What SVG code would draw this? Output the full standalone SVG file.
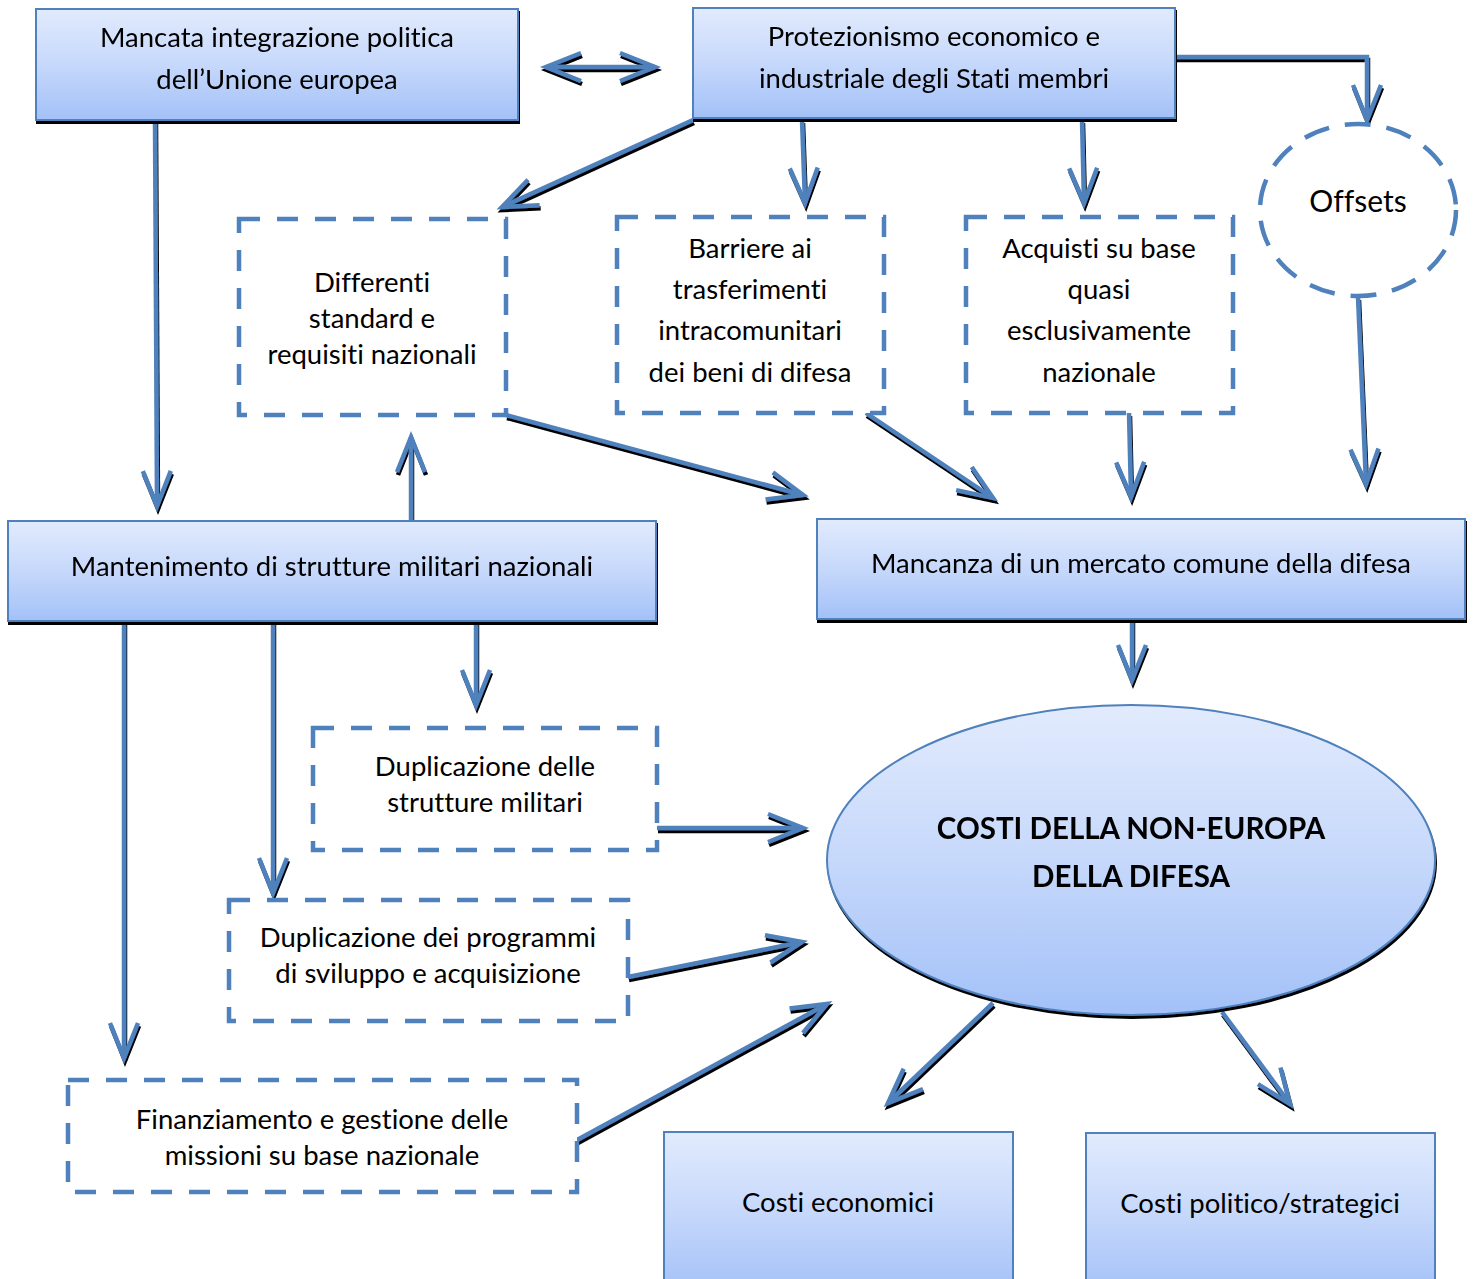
<svg xmlns="http://www.w3.org/2000/svg" width="1473" height="1279" viewBox="0 0 1473 1279">
<style>
.t{font-family:Lato,"Open Sans","Liberation Sans",sans-serif;font-size:27.5px;fill:#000;text-anchor:middle;font-variant-ligatures:none}
.b{font-weight:bold;font-size:29.5px}
.solid{fill:url(#g);stroke:#4f81bd;stroke-width:2}
.dash{fill:#fff;stroke:#4f81bd;stroke-width:4.5;stroke-dasharray:21 17}
.c{fill:none;stroke:#4f81bd;stroke-width:4.5;marker-end:url(#ah)}
</style>
<defs>
<linearGradient id="g" x1="0" y1="0" x2="0" y2="1">
<stop offset="0" stop-color="#e2ebfd"/>
<stop offset="0.5" stop-color="#c6d8fb"/>
<stop offset="1" stop-color="#a3c1f8"/>
</linearGradient>
<filter id="sh" x="-5%" y="-5%" width="110%" height="115%">
<feOffset in="SourceAlpha" dx="1" dy="3" result="o"/>
<feMerge><feMergeNode in="o"/><feMergeNode in="SourceGraphic"/></feMerge>
</filter>
<filter id="csh" x="-10%" y="-10%" width="120%" height="120%" filterUnits="userSpaceOnUse">
<feOffset in="SourceAlpha" dx="1" dy="2.5" result="o"/>
<feMerge><feMergeNode in="o"/><feMergeNode in="SourceGraphic"/></feMerge>
</filter>
<marker id="ah" markerUnits="userSpaceOnUse" markerWidth="60" markerHeight="60" refX="0" refY="0" viewBox="-45 -30 60 60" orient="auto-start-reverse" overflow="visible">
<path d="M-35,-14 L0,0 L-35,14" fill="none" stroke="#4f81bd" stroke-width="4.5" stroke-linejoin="miter"/>
</marker>
</defs>
<rect width="1473" height="1279" fill="#fff"/>

<g id="connectors" filter="url(#csh)">
<path class="c" d="M546,67 L655,67" marker-start="url(#ah)"/>
<path class="c" d="M1175,57 H1367 V120"/>
<path class="c" d="M693,120 L502,207"/>
<path class="c" d="M802,120 L805,203"/>
<path class="c" d="M1082,120 L1084,203"/>
<path class="c" d="M155,121 L157,506"/>
<path class="c" d="M411,521 L411,437"/>
<path class="c" d="M506,415 L803,495"/>
<path class="c" d="M866,413 L993,498"/>
<path class="c" d="M1129,413 L1131,497"/>
<path class="c" d="M1358,297 L1366,484"/>
<path class="c" d="M1132,620 L1132,680"/>
<path class="c" d="M124,622 L124,1058"/>
<path class="c" d="M273,622 L273,893"/>
<path class="c" d="M476,622 L476,705"/>
<path class="c" d="M657,828 L803,828"/>
<path class="c" d="M628,977 L802,942"/>
<path class="c" d="M577,1140 L827,1004"/>
<path class="c" d="M993,1003 L888,1103"/>
<path class="c" d="M1222,1012 L1290,1104"/>
</g>

<g id="n1" filter="url(#sh)">
<rect class="solid" x="36" y="9" width="482" height="111"/>
<text class="t" x="277" y="47">Mancata integrazione politica</text>
<text class="t" x="277" y="89">dell’Unione europea</text>
</g>
<g id="n2" filter="url(#sh)">
<rect class="solid" x="693" y="8" width="482" height="110"/>
<text class="t" x="934" y="46">Protezionismo economico e</text>
<text class="t" x="934" y="88">industriale degli Stati membri</text>
</g>
<g id="n3">
<ellipse cx="1358" cy="210" rx="98" ry="86" fill="#fff" stroke="#4f81bd" stroke-width="4.5" stroke-dasharray="26 16"/>
<text class="t" x="1358" y="212" style="font-size:30px">Offsets</text>
</g>
<g id="n4">
<rect class="dash" x="239" y="219" width="267" height="196"/>
<text class="t" x="372" y="292">Differenti</text>
<text class="t" x="372" y="328">standard e</text>
<text class="t" x="372" y="364">requisiti nazionali</text>
</g>
<g id="n5">
<rect class="dash" x="617" y="217" width="267" height="196"/>
<text class="t" x="750" y="258">Barriere ai</text>
<text class="t" x="750" y="299">trasferimenti</text>
<text class="t" x="750" y="340">intracomunitari</text>
<text class="t" x="750" y="382">dei beni di difesa</text>
</g>
<g id="n6">
<rect class="dash" x="966" y="217" width="267" height="196"/>
<text class="t" x="1099" y="258">Acquisti su base</text>
<text class="t" x="1099" y="299">quasi</text>
<text class="t" x="1099" y="340">esclusivamente</text>
<text class="t" x="1099" y="382">nazionale</text>
</g>
<g id="n7" filter="url(#sh)">
<rect class="solid" x="8" y="521" width="648" height="100"/>
<text class="t" x="332" y="576">Mantenimento di strutture militari nazionali</text>
</g>
<g id="n8" filter="url(#sh)">
<rect class="solid" x="817" y="519" width="648" height="100"/>
<text class="t" x="1141" y="573">Mancanza di un mercato comune della difesa</text>
</g>
<g id="n9" filter="url(#sh)">
<ellipse cx="1131" cy="860" rx="304" ry="155" fill="url(#g)" stroke="#4f81bd" stroke-width="2"/>
<text class="t b" x="1131" y="839">COSTI DELLA NON-EUROPA</text>
<text class="t b" x="1131" y="887">DELLA DIFESA</text>
</g>
<g id="n10">
<rect class="dash" x="313" y="728" width="344" height="122"/>
<text class="t" x="485" y="776">Duplicazione delle</text>
<text class="t" x="485" y="812">strutture militari</text>
</g>
<g id="n11">
<rect class="dash" x="229" y="900" width="399" height="121"/>
<text class="t" x="428" y="947">Duplicazione dei programmi</text>
<text class="t" x="428" y="983">di sviluppo e acquisizione</text>
</g>
<g id="n12">
<rect class="dash" x="68" y="1080" width="509" height="112"/>
<text class="t" x="322" y="1129">Finanziamento e gestione delle</text>
<text class="t" x="322" y="1165">missioni su base nazionale</text>
</g>
<g id="n13">
<rect class="solid" x="664" y="1132" width="349" height="160"/>
<text class="t" x="838" y="1212">Costi economici</text>
</g>
<g id="n14">
<rect class="solid" x="1086" y="1133" width="349" height="160"/>
<text class="t" x="1260" y="1213">Costi politico/strategici</text>
</g>
</svg>
